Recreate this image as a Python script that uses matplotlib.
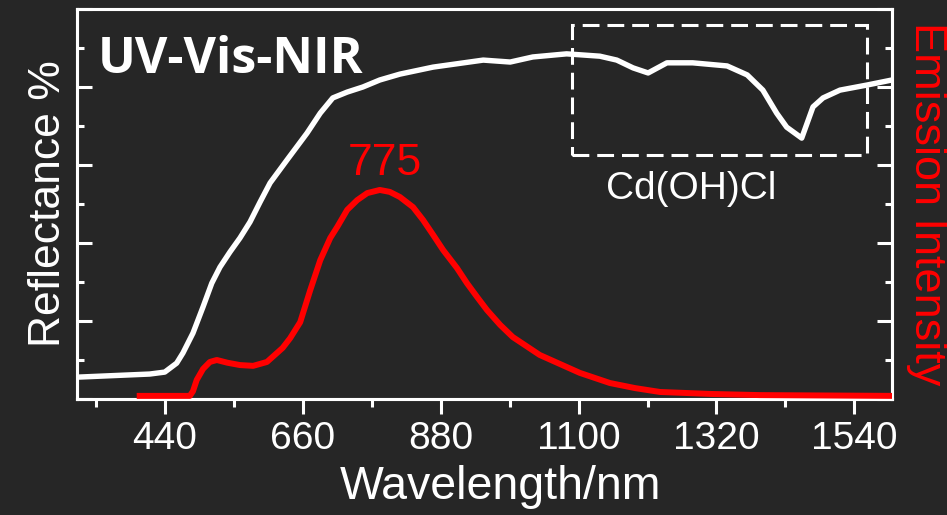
import matplotlib
matplotlib.use("Agg")
import matplotlib.pyplot as plt
from matplotlib.ticker import MultipleLocator, NullFormatter
from matplotlib.patches import Rectangle

# Reflectance (white) — wavelength (nm), reflectance (a.u., 0-100)
refl_wl = [300, 416, 440, 459, 469, 485, 501, 515, 528, 544, 560, 576, 592, 608,
           635, 667, 688, 708, 731, 756, 783, 815, 868, 948, 991, 1027, 1081, 1134,
           1161, 1187, 1211, 1241, 1282, 1337, 1369, 1394, 1416, 1432, 1456, 1474,
           1490, 1517, 1560, 1600]
refl_val = [5.6, 6.4, 6.9, 9.2, 11.8, 16.9, 23.6, 29.7, 33.8, 37.7, 41.3, 45.4, 50.5, 55.4,
            61.3, 68.2, 73.3, 77.2, 78.7, 80.0, 81.8, 83.3, 85.1, 86.9, 86.4, 87.7, 88.5, 87.9,
            86.9, 84.9, 83.6, 86.2, 86.2, 85.4, 83.1, 79.2, 73.3, 69.7, 66.9, 74.9,
            77.2, 79.2, 80.5, 81.8]

# Emission (red)
em_wl = [400, 480, 485, 491, 501, 512, 523, 540, 560, 581, 603, 628, 640, 656, 672, 688,
         704, 715, 731, 747, 763, 783, 799, 815, 836, 852, 868, 884, 906, 922, 938, 954,
         975, 995, 1038, 1070, 1102, 1150, 1190, 1230, 1310, 1389, 1600]
em_val = [0.8, 0.8, 2.0, 4.9, 7.7, 9.5, 10.0, 9.3, 8.7, 8.5, 9.5, 13.1, 15.6, 19.7, 27.9, 35.6,
          41.3, 44.1, 48.5, 51.0, 52.8, 53.6, 53.1, 51.8, 49.2, 45.9, 42.1, 38.2, 33.6, 29.7, 26.2, 22.8,
          19.0, 15.9, 11.3, 9.0, 6.7, 4.1, 2.8, 1.8, 1.3, 1.0, 0.8]

xticks = [440, 660, 880, 1100, 1320, 1540]
xtick_labels = ["440", "660", "880", "1100", "1320", "1540"]
box_x = [1089, 1560]
box_y = [62.6, 95.9]

BG = "#262626"
plt.rcParams['font.family'] = ['Liberation Sans', 'DejaVu Sans']

fig = plt.figure(figsize=(9.47, 5.15), dpi=100, facecolor=BG)
ax = fig.add_axes([77/947, 1-399/515, (892-77)/947, (399-9)/515])
ax.set_facecolor(BG)
ax2 = ax.twinx()

ax.plot(refl_wl, refl_val, color="white", lw=3.9, solid_joinstyle="round",
        solid_capstyle="round", zorder=4)
ax2.plot(em_wl, em_val, color="#ff0000", lw=4.3, solid_joinstyle="round", zorder=3)

ax.set_xlim(300, 1600)
ax.set_ylim(0, 100)
ax2.set_ylim(0, 100)

for a in (ax, ax2):
    for s in a.spines.values():
        s.set_color("white")
        s.set_linewidth(2.2)

ax.set_xticks(xticks)
ax.set_xticklabels(xtick_labels)
ax.xaxis.set_minor_locator(MultipleLocator(110))
ax.tick_params(axis='x', which='major', direction='out', length=11, width=2.2,
               colors='white', labelsize=28, pad=5)
ax.tick_params(axis='x', which='minor', direction='out', length=5.5, width=2.2, colors='white')

ax.yaxis.set_major_locator(MultipleLocator(20))
ax.yaxis.set_minor_locator(MultipleLocator(10))
ax.yaxis.set_major_formatter(NullFormatter())
ax.tick_params(axis='y', which='major', direction='in', length=11, width=2.2, colors='white')
ax.tick_params(axis='y', which='minor', direction='in', length=5, width=2.2, colors='white')

ax2.yaxis.set_major_locator(MultipleLocator(20))
ax2.yaxis.set_minor_locator(MultipleLocator(10))
ax2.yaxis.set_major_formatter(NullFormatter())
ax2.tick_params(axis='y', which='major', direction='in', length=11, width=2.2, colors='white')
ax2.tick_params(axis='y', which='minor', direction='in', length=5, width=2.2, colors='white')

ax.set_xlabel("Wavelength/nm", fontsize=33.5, color="white", labelpad=6)
ax.xaxis.set_label_coords(0.52, -0.17)
ax.set_ylabel("Reflectance %", fontsize=32, color="white", labelpad=2)
ax2.set_ylabel("Emission Intensity", fontsize=32.5, color="#ff0000", rotation=270,
               labelpad=36)

ax.text(333, 87, "UV-Vis-NIR", fontsize=36, fontweight="bold", color="white",
        ha="left", va="center", family=["Open Sans", "DejaVu Sans"])
ax.text(791, 60.3, "775", fontsize=32, color="#ff0000", ha="center", va="center")
ax.text(1279, 53.8, "Cd(OH)Cl", fontsize=28, color="white", ha="center", va="center")

rect = Rectangle((box_x[0], box_y[0]), box_x[1]-box_x[0], box_y[1]-box_y[0],
                 fill=False, edgecolor="white", lw=2.2, linestyle=(0, (5.5, 2.6)), zorder=2)
ax.add_patch(rect)

fig.savefig("out.png", dpi=100, facecolor=BG)
